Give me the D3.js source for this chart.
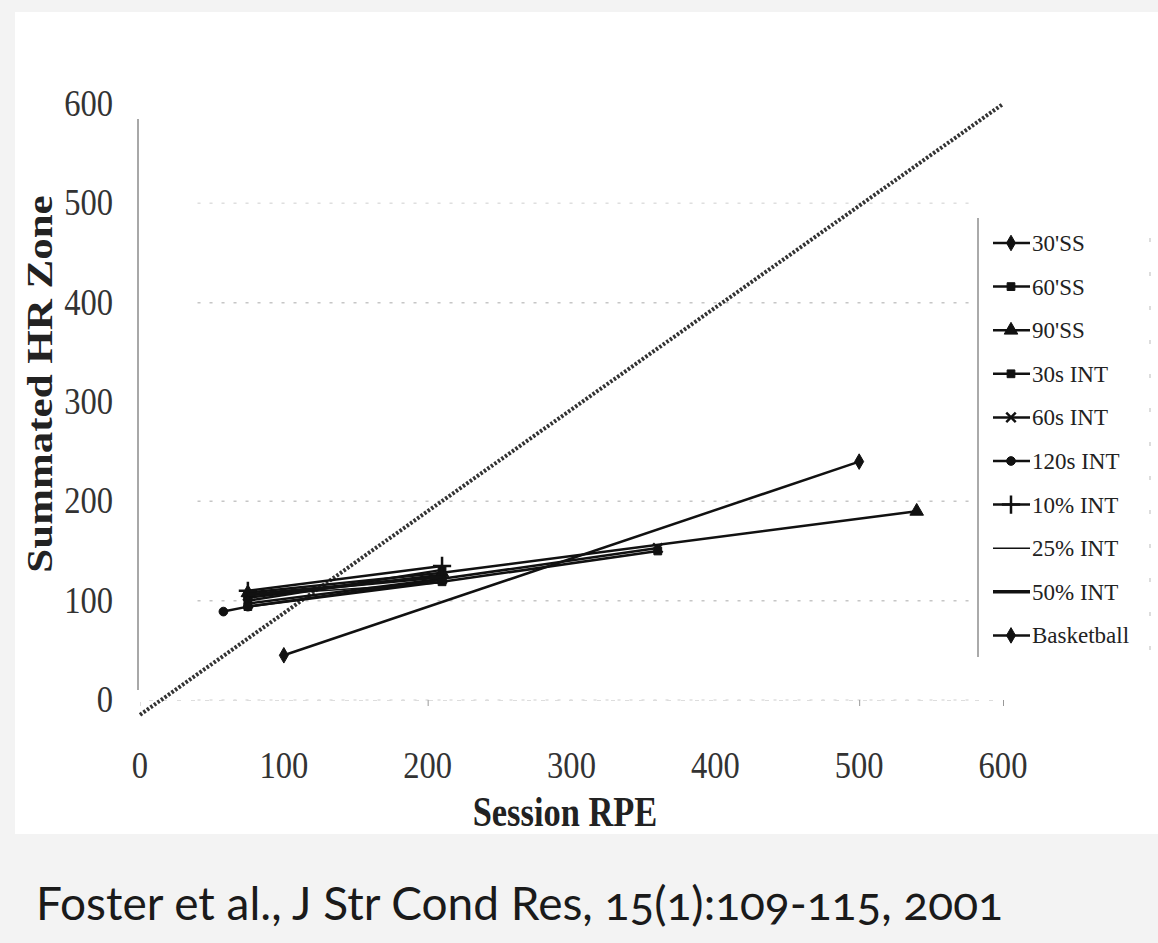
<!DOCTYPE html>
<head>
<meta charset="utf-8">
<title>Session RPE vs Summated HR Zone</title>
<script src="https://d3js.org/d3.v7.min.js"></script>
<style>
  body { margin: 0; background: #f3f3f3; }
  svg { display: block; }
</style>
</head>
<body>
<div id="chart"></div>
<script>

  // values (Session RPE, Summated HR Zone)
  var ss30 = [[75, 103], [210, 126]];
  var ss60 = [[75, 100], [210, 131]];
  var ss90 = [[75, 108], [210, 128], [540, 190]];
  var int30s = [[75, 94], [210, 119], [360, 150]];
  var int60s = [[75, 97], [210, 122], [360, 153]];
  var int120s = [[58, 89], [75, 94], [210, 121]];
  var int10 = [[75, 110], [210, 135]];
  var int25 = [[75, 105], [210, 118]];
  var int50 = [[75, 106], [210, 124]];
  var basketball = [[100, 45], [500, 240]];
  var identityLine = [[0, -15], [600, 600]];

  var seriesNames = ["30'SS", "60'SS", "90'SS", "30s INT", "60s INT", "120s INT",
                     "10% INT", "25% INT", "50% INT", "Basketball"];
  var seriesData = [ss30, ss60, ss90, int30s, int60s, int120s, int10, int25, int50, basketball];
  var seriesMarks = ["diamond", "square", "triangle", "square", "x", "circle", "plus", "none", "none", "diamond"];

  var xTicks = [0, 100, 200, 300, 400, 500, 600];
  var yTicks = [0, 100, 200, 300, 400, 500, 600];
  var gridValues = [0, 100, 200, 400, 500];

  var width = 1158, height = 943;

  var svg = d3.select("#chart")
    .append("svg")
      .attr("width", width)
      .attr("height", height);

  svg.append("rect")
    .attr("x", 15).attr("y", 12)
    .attr("width", width - 15).attr("height", 822)
    .style("fill", "white");

  var x = d3.scaleLinear()
    .domain([0, 600])
    .range([140, 1003]);

  var y = d3.scaleLinear()
    .domain([0, 600])
    .range([700, 104]);

  // faint scanned gridlines
  svg.append("g")
    .selectAll("line")
    .data(gridValues)
    .enter()
    .append("line")
      .attr("x1", x(40))
      .attr("x2", x(580))
      .attr("y1", function(d) { return y(d); })
      .attr("y2", function(d) { return y(d); })
      .style("stroke", "#c0c0c0")
      .style("stroke-width", 1.5)
      .style("stroke-dasharray", "3,9")
      .style("opacity", function(d) { return (d == 500 || d == 0) ? 0.5 : 0.9; });

  // y axis line
  svg.append("line")
    .attr("x1", x(0) - 2).attr("x2", x(0) - 2)
    .attr("y1", y(585)).attr("y2", y(10))
    .style("stroke", "#a8a8a8")
    .style("stroke-width", 2);

  // bottom axis ticks (faint)
  svg.append("g")
    .attr("transform", "translate(0," + y(0) + ")")
    .call(d3.axisBottom(x).tickValues([200, 500, 600]).tickSize(6).tickFormat(""))
    .call(function(g) {
      g.select(".domain").style("stroke", "#ddd").style("stroke-dasharray", "4,10");
      g.selectAll(".tick line").style("stroke", "#999");
    });

  // tick labels
  svg.append("g")
    .selectAll("text")
    .data(yTicks)
    .enter()
    .append("text")
      .attr("transform", function(d) { return "translate(113," + (y(d) + 12) + ") scale(0.88,1)"; })
      .style("text-anchor", "end")
      .style("font-family", "'Liberation Serif', 'DejaVu Serif', serif")
      .style("font-size", "37px")
      .style("fill", "#333")
      .text(function(d) { return d; });

  svg.append("g")
    .selectAll("text")
    .data(xTicks)
    .enter()
    .append("text")
      .attr("transform", function(d) { return "translate(" + x(d) + ",778) scale(0.88,1)"; })
      .style("text-anchor", "middle")
      .style("font-family", "'Liberation Serif', 'DejaVu Serif', serif")
      .style("font-size", "37px")
      .style("fill", "#333")
      .text(function(d) { return d; });

  // axis titles
  svg.append("text")
    .attr("transform", "translate(565,826) scale(0.82,1)")
    .style("text-anchor", "middle")
    .style("font-family", "'Liberation Serif', serif")
    .style("font-weight", "bold")
    .style("font-size", "42px")
    .style("fill", "#222")
    .text("Session RPE");

  svg.append("text")
    .attr("transform", "translate(52,384) scale(0.82,1) rotate(-90)")
    .style("text-anchor", "middle")
    .style("font-family", "'Liberation Serif', serif")
    .style("font-weight", "bold")
    .style("font-size", "43px")
    .style("fill", "#222")
    .text("Summated HR Zone");

  var line = d3.line()
    .x(function(d) { return x(d[0]); })
    .y(function(d) { return y(d[1]); });

  // line of identity
  svg.append("path")
    .datum(identityLine)
    .attr("d", line)
    .style("fill", "none")
    .style("stroke", "#333")
    .style("stroke-width", 4)
    .style("stroke-dasharray", "2.5,1.8");

  var symbolFor = function(m, size) {
    var t = { diamond: d3.symbolDiamond, square: d3.symbolSquare, triangle: d3.symbolTriangle,
              circle: d3.symbolCircle, x: d3.symbolX || d3.symbolCross, plus: d3.symbolPlus || d3.symbolCross };
    return d3.symbol().type(t[m]).size(size)();
  };

  var markSize = { diamond: 70, square: 60, triangle: 80, circle: 60, x: 60, plus: 110 };

  seriesData.forEach(function(pts, i) {
    var m = seriesMarks[i];
    svg.append("path")
      .datum(pts)
      .attr("d", line)
      .style("fill", "none")
      .style("stroke", "#111")
      .style("stroke-width", m == "none" && i == 8 ? 3.5 : (m == "none" ? 1.5 : 2.5));

    if (m != "none") {
      svg.append("g")
        .selectAll("path")
        .data(pts)
        .enter()
        .append("path")
          .attr("transform", function(d) { return "translate(" + x(d[0]) + "," + y(d[1]) + ")"; })
          .attr("d", symbolFor(m, markSize[m]))
          .style("fill", "#111")
          .style("stroke", "#111")
          .style("stroke-width", (m == "x" || m == "plus") ? 2.5 : 1);
    }
  });

  // legend
  var legend = svg.append("g");

  legend.append("line")
    .attr("x1", 978).attr("x2", 978)
    .attr("y1", 218).attr("y2", 657)
    .style("stroke", "#aaa")
    .style("stroke-width", 2);

  legend.append("line")
    .attr("x1", 1150).attr("x2", 1150)
    .attr("y1", 238).attr("y2", 655)
    .style("stroke", "#ddd")
    .style("stroke-width", 2)
    .style("stroke-dasharray", "4,30");

  var item = legend.selectAll(".item")
    .data(seriesNames)
    .enter()
    .append("g")
      .attr("class", "item")
      .attr("transform", function(d, i) { return "translate(0," + (243 + i * 43.6) + ")"; });

  item.append("line")
    .attr("x1", 993).attr("x2", 1030)
    .attr("y1", 0).attr("y2", 0)
    .style("stroke", "#111")
    .style("stroke-width", function(d, i) { return i == 8 ? 3.5 : (i == 7 ? 1.5 : 2.5); });

  item.filter(function(d, i) { return seriesMarks[i] != "none"; })
    .append("path")
      .attr("transform", "translate(1011,0)")
      .attr("d", function(d) {
        var m = seriesMarks[seriesNames.indexOf(d)];
        return symbolFor(m, markSize[m]);
      })
      .style("fill", "#111")
      .style("stroke", "#111")
      .style("stroke-width", function(d) {
        var m = seriesMarks[seriesNames.indexOf(d)];
        return (m == "x" || m == "plus") ? 2.5 : 1;
      });

  item.append("text")
    .attr("x", 1032)
    .attr("y", 8)
    .style("font-family", "'Liberation Serif', serif")
    .style("font-size", "23px")
    .style("fill", "#222")
    .text(function(d) { return d; });

  // citation
  svg.append("text")
    .attr("x", 36)
    .attr("y", 920)
    .style("font-family", "Lato, 'Open Sans', sans-serif")
    .style("font-size", "46px")
    .style("font-variant-numeric", "oldstyle-nums")
    .style("fill", "#1a1a1a")
    .text("Foster et al., J Str Cond Res, 15(1):109-115, 2001");

</script>
</body>
</html>
